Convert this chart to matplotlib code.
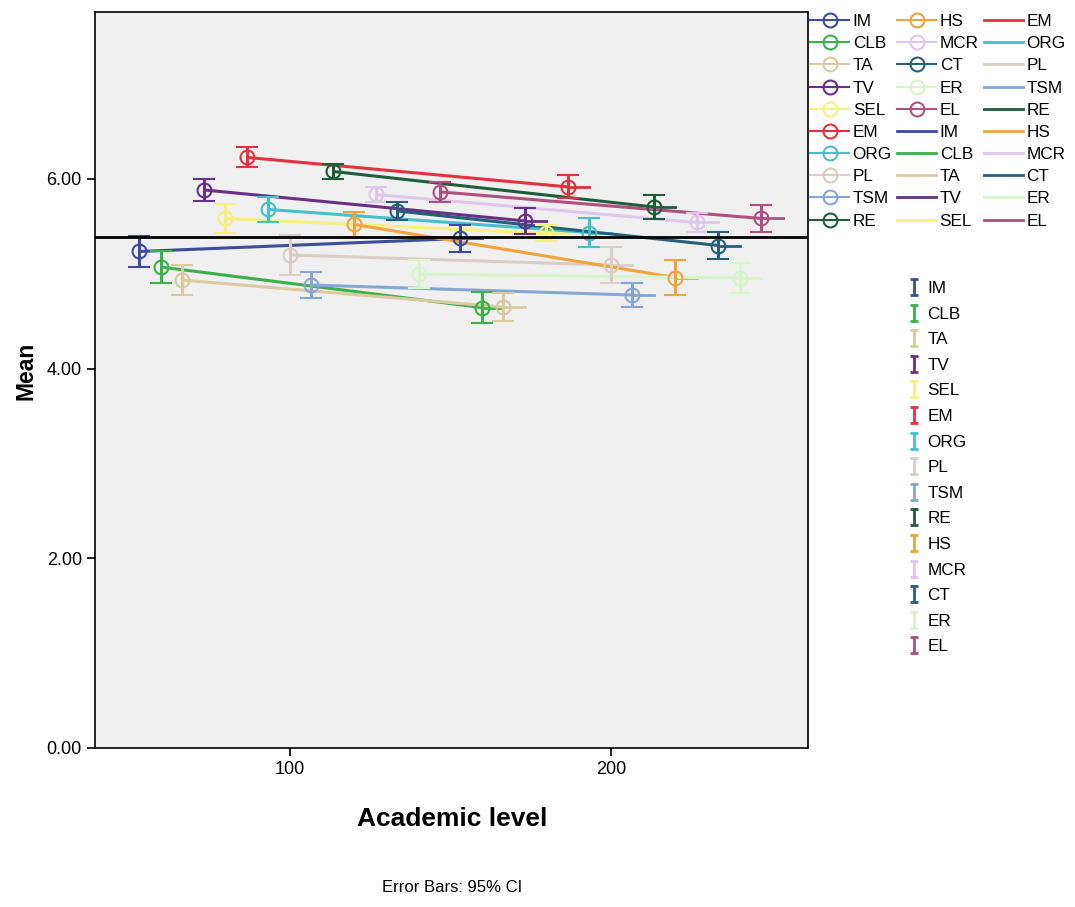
import matplotlib
matplotlib.use('Agg')
import matplotlib.pyplot as plt
from matplotlib.lines import Line2D
from matplotlib.path import Path

plt.rcParams['font.family'] = ['Liberation Sans', 'DejaVu Sans']

# ---------------- data ----------------
variables = ["IM", "CLB", "TA", "TV", "SEL", "EM", "ORG", "PL", "TSM", "RE",
             "HS", "MCR", "CT", "ER", "EL"]
levels = [100, 200]
mean_low = [5.235, 5.071, 4.934, 5.884, 5.583, 6.227, 5.678, 5.198, 4.881, 6.079,
            5.520, 5.836, 5.662, 4.997, 5.863]
mean_high = [5.372, 4.644, 4.649, 5.557, 5.425, 5.916, 5.435, 5.092, 4.776, 5.704,
             4.960, 5.541, 5.298, 4.955, 5.583]
ci_low = [0.164, 0.169, 0.158, 0.116, 0.153, 0.106, 0.132, 0.211, 0.137, 0.079,
          0.132, 0.079, 0.095, 0.148, 0.106]
ci_high = [0.142, 0.164, 0.148, 0.137, 0.084, 0.121, 0.153, 0.190, 0.127, 0.127,
           0.185, 0.100, 0.142, 0.158, 0.142]
grand_mean = 5.39
yticks = [0, 2, 4, 6]
ytick_labels = ["0.00", "2.00", "4.00", "6.00"]
xticks = [100, 200]

colors = ["#3d4c9e", "#3cb04a", "#d9caa0", "#6a2f86", "#f6f07c", "#e3313f",
          "#45bfca", "#d9cdc6", "#86a6d4", "#1f5c3c", "#f0a43c", "#dfc6ec",
          "#25607a", "#d8f4cc", "#b0507e"]

# ---------------- figure ----------------
fig = plt.figure(figsize=(10.75, 9.07), dpi=100)
W, H = 1075, 907
ax = fig.add_axes([95 / W, 1 - 748 / H, (808 - 95) / W, (748 - 12) / H])
ax.set_facecolor("#f0f0f0")

jitter = 6.7
n = len(variables)
for i, v in enumerate(variables):
    off = (i - (n - 1) / 2) * jitter
    xs = [levels[0] + off, levels[1] + off]
    ys = [mean_low[i], mean_high[i]]
    c = colors[i]
    ax.plot(xs, ys, color=c, lw=2.2, zorder=3, solid_capstyle='butt')
    ax.plot([xs[1], xs[1] + jitter], [ys[1], ys[1]], color=c, lw=2.0, zorder=3)
    ax.errorbar(xs, ys, yerr=[[ci_low[i], ci_high[i]], [ci_low[i], ci_high[i]]],
                fmt='o', mfc='none', mec=c, ms=10, mew=1.5, ecolor=c,
                elinewidth=2.2, capsize=8, capthick=2.2, zorder=4)

ax.axhline(grand_mean, color="black", lw=2, zorder=5)

ax.set_xlim(39.3, 261.4)
ax.set_ylim(0, 7.76)
ax.set_xticks(xticks)
ax.set_xticklabels([str(t) for t in xticks])
ax.set_yticks(yticks)
ax.set_yticklabels(ytick_labels)
ax.tick_params(direction='out', length=6, width=1.2, labelsize=13, colors='black')
for s in ax.spines.values():
    s.set_color("black")
    s.set_linewidth(1.2)

fig.text(26 / W, 1 - 371 / H, "Mean", rotation=90, ha='center', va='center',
         fontsize=16.5, fontweight='bold')
fig.text(452 / W, 1 - 819 / H, "Academic level", ha='center', va='center',
         fontsize=19, fontweight='bold')
fig.text(452 / W, 1 - 887 / H, "Error Bars: 95% CI", ha='center', va='center',
         fontsize=12)

# ---------------- legends ----------------
marker_handles = [Line2D([], [], color=c, lw=1.5, marker='o', mfc='none', mec=c,
                         ms=10, mew=1.5) for c in colors]
line_handles = [Line2D([], [], color=c, lw=2.0) for c in colors]
handles1 = marker_handles + line_handles
labels1 = variables + variables
leg1 = fig.legend(handles1, labels1, ncol=3, loc='upper left',
                  bbox_to_anchor=(810 / W, 1 - 14 / H), frameon=False,
                  fontsize=12.3, handlelength=2.3, handletextpad=0.2,
                  columnspacing=0.3, labelspacing=0.42, borderpad=0,
                  borderaxespad=0)

ipath = Path([(-0.5, 1), (0.5, 1), (0, 1), (0, -1), (-0.5, -1), (0.5, -1)],
             [Path.MOVETO, Path.LINETO, Path.MOVETO, Path.LINETO, Path.MOVETO, Path.LINETO])
err_handles = [Line2D([], [], ls='none', marker=ipath, ms=11, mfc='none', mec=c, mew=2)
               for c in colors]
leg2 = fig.legend(err_handles, variables, loc='upper left',
                  bbox_to_anchor=(907 / W, 1 - 281 / H), frameon=False,
                  fontsize=12.3, handlelength=0.8, handletextpad=0.4,
                  labelspacing=0.62, borderpad=0, borderaxespad=0)

fig.savefig("out.png", dpi=100, facecolor="white")
